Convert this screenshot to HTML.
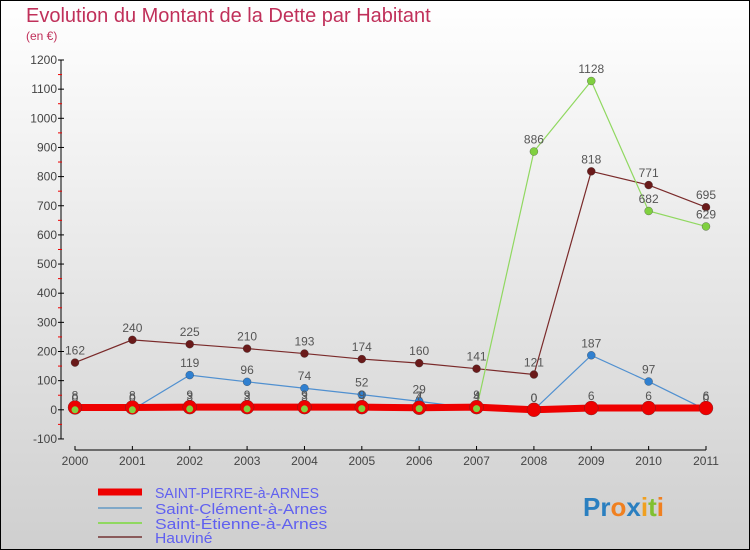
<!DOCTYPE html>
<html><head><meta charset="utf-8"><style>
html,body{margin:0;padding:0}
body{width:750px;height:550px;overflow:hidden}
svg{display:block}
text{font-family:"Liberation Sans",sans-serif}
</style></head><body>
<svg id="chart" width="750" height="550" xmlns="http://www.w3.org/2000/svg">
<defs>
<linearGradient id="bg" x1="0" y1="0" x2="0" y2="1"><stop offset="0" stop-color="#ffffff"/><stop offset="1" stop-color="#cfcfcf"/></linearGradient>
</defs>
<rect x="0.5" y="0.5" width="749" height="549" fill="url(#bg)" stroke="#000"/>
<text x="26" y="22" font-size="20" fill="#c0305a">Evolution du Montant de la Dette par Habitant</text>
<text x="26" y="40" font-size="12" fill="#c0305a">(en €)</text>
<g id="axes"></g>
<g id="series"></g>
<g id="legend"></g>
<text x="583" y="516" font-size="26" font-weight="bold"><tspan fill="#2a7fc0">Pr</tspan><tspan fill="#f08020">o</tspan><tspan fill="#2a7fc0">x</tspan><tspan fill="#f0a020">i</tspan><tspan fill="#80c030">t</tspan><tspan fill="#f08020">i</tspan></text>
</svg>
<script>
const years=[2000,2001,2002,2003,2004,2005,2006,2007,2008,2009,2010,2011];
const yTicks=[-100,0,100,200,300,400,500,600,700,800,900,1000,1100,1200];
const stPierre=[8,8,9,9,9,9,7,9,0,6,6,6];
const stClement=[0,0,119,96,74,52,29,4,0,187,97,0];
const stEtienne=[0,0,3,3,3,4,4,4,886,1128,682,629];
const hauvine=[162,240,225,210,193,174,160,141,121,818,771,695];
const NS="http://www.w3.org/2000/svg";
function xS(i){return 75+i*(706-75)/11;}
function yS(v){return 409.8-v*29.15/100;}
function mk(tag,attrs,parent){const e=document.createElementNS(NS,tag);for(const k in attrs)e.setAttribute(k,attrs[k]);parent.appendChild(e);return e;}
const axes=document.getElementById('axes');
let a=mk('line',{x1:61,y1:yS(1200),x2:61,y2:yS(-100),stroke:'#000'},axes);


yTicks.forEach(t=>{
 const l=mk('line',{x1:58,x2:64,y1:yS(t),y2:yS(t),stroke:'#000'},axes);
 
 
 if(t<1200){const m=mk('line',{x1:58,x2:62,y1:yS(t+50),y2:yS(t+50),stroke:'#e00'},axes);
 
 }
 const tx=mk('text',{x:57,y:yS(t)+4,'font-size':12,fill:'#444','text-anchor':'end'},axes);
 tx.textContent=t;
 
 
});
let xa=mk('line',{x1:xS(0),y1:450,x2:xS(11),y2:450,stroke:'#000'},axes);


years.forEach((y,i)=>{
 const l=mk('line',{x1:xS(i),x2:xS(i),y1:446,y2:450,stroke:'#000'},axes);
 
 
 const tx=mk('text',{x:xS(i),y:465,'font-size':12,fill:'#444','text-anchor':'middle'},axes);
 tx.textContent=y;
 
 
});
const sg=document.getElementById('series');
const defs=[
 {d:hauvine,c:'#7a2a2a',w:1.2,r:4,f:'#6a1a1a',n:'hauvine'},
 {d:stEtienne,c:'#90d860',w:1.2,r:4,f:'#80d040',n:'saint-etienne'},
 {d:stClement,c:'#5090d0',w:1.2,r:4,f:'#3080d0',n:'saint-clement'},
 {d:stPierre,c:'#ee0000',w:7,r:7,f:'#ee0000',n:'saint-pierre'}
];
defs.forEach(s=>{
 const pl=mk('polyline',{points:s.d.map((v,i)=>xS(i)+','+yS(v)).join(' '),fill:'none',stroke:s.c,'stroke-width':s.w},sg);
 
 
 s.d.forEach((v,i)=>{
  const c=mk('circle',{cx:xS(i),cy:yS(v),r:s.r,fill:s.f,stroke:'#333','stroke-width':0.3},sg);
  
  
  const t=mk('text',{x:xS(i),y:yS(v)-8,'font-size':12,fill:'#555','text-anchor':'middle'},sg);
  t.textContent=v;
  
  
 });
});
// green markers on top near zero
stEtienne.forEach((v,i)=>{if(v<50){const c=mk('circle',{cx:xS(i),cy:yS(v),r:3.5,fill:'#80d040'},sg);
 
 }});
const lg=document.getElementById('legend');
const items=[['SAINT-PIERRE-à-ARNES','#ee0000',7,492],['Saint-Clément-à-Arnes','#7fa8c8',2,508],['Saint-Étienne-à-Arnes','#90d860',2,523],['Hauviné','#8a5a5a',2,537]];
items.forEach(it=>{
 const l=mk('line',{x1:98,x2:142,y1:it[3],y2:it[3],stroke:it[1],'stroke-width':it[2]},lg);
 
 
 const t=mk('text',{x:155,y:it[3]+6,'font-size':15,fill:'#6060f0',textLength:it[0].length*8.2,lengthAdjust:'spacingAndGlyphs'},lg);
 t.textContent=it[0];
 
 
});
</script>
</body></html>
